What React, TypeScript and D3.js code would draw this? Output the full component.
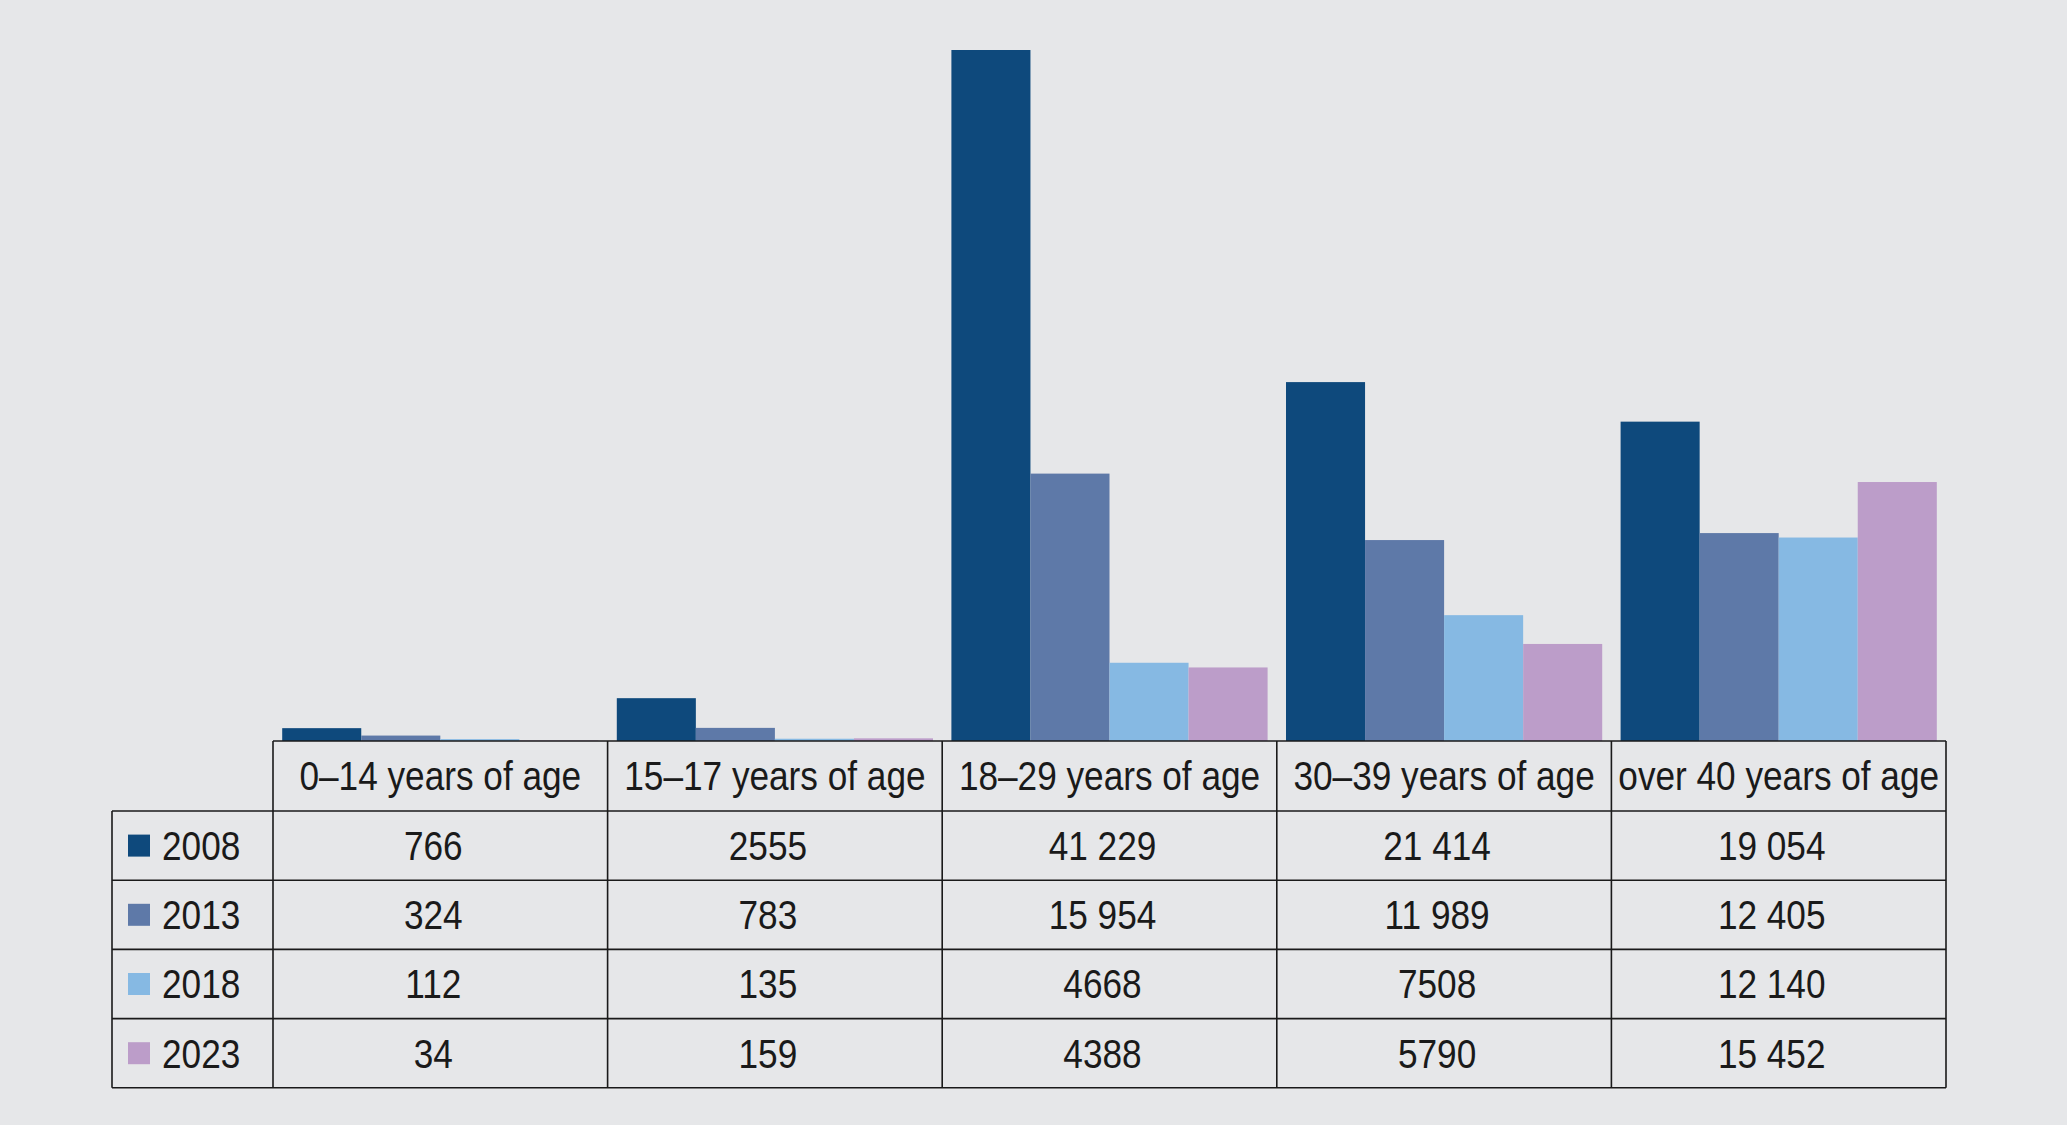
import { useEffect, useRef } from 'react';
import * as d3 from 'd3';

const categories = ['0–14 years of age', '15–17 years of age', '18–29 years of age', '30–39 years of age', 'over 40 years of age'];
const years = ['2008', '2013', '2018', '2023'];
const values2008 = [766, 2555, 41229, 21414, 19054];
const values2013 = [324, 783, 15954, 11989, 12405];
const values2018 = [112, 135, 4668, 7508, 12140];
const values2023 = [34, 159, 4388, 5790, 15452];
const colors = ['#0e497c', '#5e79a8', '#86b9e3', '#bc9dc9'];

const W = 2067;
const H = 1125;
const FONT = '"Liberation Sans", Arial, sans-serif';
const SQUEEZE = 0.88; // no condensed font installed, so squeeze horizontally

function fmt(v: number) {
  // thousands separated by a space only from 5 digits up
  return v >= 10000 ? d3.format(',')(v).replace(/,/g, ' ') : String(v);
}

export default function App() {
  const svgRef = useRef<SVGSVGElement>(null);

  useEffect(() => {
    document.body.style.margin = '0';
    const svg = d3.select(svgRef.current);
    svg.selectAll('*').remove();

    const series = [values2008, values2013, values2018, values2023];

    const tableLeft = 112;
    const colLeft = 273;
    const right = 1946;
    const baseY = 741;
    const headerH = 70;
    const rowH = 69.2;
    const fontSize = 40;

    svg.append('rect').attr('width', W).attr('height', H).attr('fill', '#e6e7e9');

    const x0 = d3.scaleBand<string>()
      .domain(categories)
      .range([colLeft, right])
      .paddingInner(0.055)
      .paddingOuter(0.0275);

    const x1 = d3.scaleBand<string>()
      .domain(years)
      .range([0, x0.bandwidth()]);

    const y = d3.scaleLinear()
      .domain([0, d3.max(series.flat()) as number])
      .range([baseY, 50]);

    // bars
    const groups = svg.append('g')
      .selectAll('g')
      .data(categories)
      .join('g')
      .attr('transform', d => `translate(${x0(d)},0)`);

    groups.selectAll('rect')
      .data((_, ci) => years.map((yr, si) => ({ yr, si, v: series[si][ci] })))
      .join('rect')
      .attr('x', d => x1(d.yr) as number)
      .attr('width', x1.bandwidth())
      .attr('y', d => y(d.v))
      .attr('height', d => baseY - y(d.v))
      .attr('fill', d => colors[d.si]);

    // table grid
    const colEdges = categories.map((_, i) => colLeft + i * (right - colLeft) / categories.length).concat([right]);
    const rowEdges = d3.range(years.length + 1).map(i => baseY + headerH + i * rowH);
    const grid = svg.append('g').attr('stroke', '#1a1a1a').attr('stroke-width', 1.6);

    grid.append('line').attr('x1', colLeft).attr('x2', right).attr('y1', baseY).attr('y2', baseY);
    rowEdges.forEach(ry => {
      grid.append('line').attr('x1', tableLeft).attr('x2', right).attr('y1', ry).attr('y2', ry);
    });
    grid.append('line').attr('x1', tableLeft).attr('x2', tableLeft)
      .attr('y1', rowEdges[0]).attr('y2', rowEdges[rowEdges.length - 1]);
    colEdges.forEach(cx => {
      grid.append('line').attr('x1', cx).attr('x2', cx)
        .attr('y1', baseY).attr('y2', rowEdges[rowEdges.length - 1]);
    });

    const cellMid = (i: number) => (colEdges[i] + colEdges[i + 1]) / 2;
    const textOffset = fontSize * 0.36;
    const place = (x: number, yy: number) => `translate(${x},${yy}) scale(${SQUEEZE},1)`;

    // header
    svg.append('g')
      .selectAll('text')
      .data(categories)
      .join('text')
      .attr('transform', (_, i) => place(cellMid(i), baseY + headerH / 2 + textOffset))
      .attr('text-anchor', 'middle')
      .attr('font-family', FONT)
      .attr('font-size', fontSize)
      .attr('fill', '#1a1a1a')
      .text(d => d);

    // rows
    years.forEach((yr, si) => {
      const cy = rowEdges[si] + rowH / 2;
      svg.append('rect')
        .attr('x', 128).attr('y', cy - 11)
        .attr('width', 22).attr('height', 22)
        .attr('fill', colors[si]);
      svg.append('text')
        .attr('transform', place(162, cy + textOffset))
        .attr('font-family', FONT).attr('font-size', fontSize)
        .attr('fill', '#1a1a1a')
        .text(yr);
      svg.append('g')
        .selectAll('text')
        .data(series[si])
        .join('text')
        .attr('transform', (_, i) => place(cellMid(i) - 7, cy + textOffset))
        .attr('text-anchor', 'middle')
        .attr('font-family', FONT)
        .attr('font-size', fontSize)
        .attr('fill', '#1a1a1a')
        .text(d => fmt(d));
    });
  }, []);

  return <svg ref={svgRef} width={W} height={H} style={{ display: 'block' }} />;
}
